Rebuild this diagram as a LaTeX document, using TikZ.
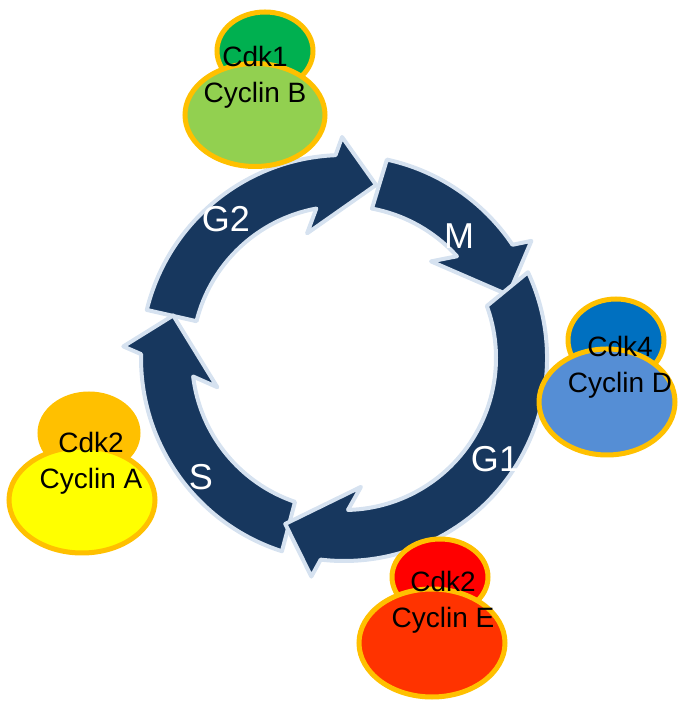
\documentclass[tikz,border=0pt]{standalone}
\usepackage{fontspec}
\setmainfont{Liberation Sans}
\usetikzlibrary{shapes.geometric}
\definecolor{cyclenavy}{RGB}{23,55,94}
\definecolor{cycleedge}{RGB}{214,226,240}
\definecolor{blobedge}{RGB}{255,192,0}
\definecolor{cdkgreen}{RGB}{0,176,80}
\definecolor{cycbgreen}{RGB}{146,208,80}
\definecolor{cdkblue}{RGB}{0,112,192}
\definecolor{cycdblue}{RGB}{85,142,213}
\definecolor{cdkorange}{RGB}{255,192,0}
\definecolor{cycayellow}{RGB}{255,255,0}
\definecolor{cdkred}{RGB}{255,0,0}
\definecolor{cyceorange}{RGB}{255,51,0}
\begin{document}
\begin{tikzpicture}[x=1pt,y=1pt,
    phasearrow/.style={fill=cyclenavy, draw=cycleedge, line width=4pt, line join=round},
    phaselabel/.style={text=white, font=\fontsize{36}{40}\selectfont},
    blob/.style={ellipse, draw=blobedge, line width=5pt, inner sep=0pt},
    blobtext/.style={align=center, font=\fontsize{28}{36}\selectfont}]
    \useasboundingbox (0,0) rectangle (679,701);
    % cycle ring: M, G2, S, G1
    \begin{scope}[shift={(344,343)}]
        \foreach \outa/\inna/\tipa in {77.8/79.4/21, 166.3/166/79.5, 252.2/251.2/166, 25/20/-109.5}
            \draw[phasearrow] (\outa:203pt) arc[start angle=\outa, end angle=\tipa+12.9, radius=203pt]
                -- ({\tipa+11}:221pt) -- (\tipa:176pt) -- ({\tipa+27}:130pt) -- ({\tipa+21}:152pt)
                arc[start angle=\tipa+21, end angle=\inna, radius=152pt] -- cycle;
    \end{scope}
    \node[phaselabel] (g2) at (226,482) {G2};
    \node[phaselabel] (m) at (459,465) {M};
    \node[phaselabel] (g1) at (495,242) {G1};
    \node[phaselabel] (s) at (201,224) {S};
    % Cdk / cyclin pairs
    \node[blob, fill=cdkgreen, minimum width=96, minimum height=78] (cdk1) at (265,650) {};
    \node[blob, fill=cycbgreen, minimum width=140, minimum height=103] (cycb) at (255,586) {};
    \node[blobtext] (cdk1txt) at (255,624) {Cdk1\\Cyclin B};
    \node[blob, fill=cdkblue, minimum width=96, minimum height=82] (cdk4) at (616,361) {};
    \node[blob, fill=cycdblue, minimum width=136, minimum height=106] (cycd) at (607,299) {};
    \node[blobtext] (cdk4txt) at (620,334) {Cdk4\\Cyclin D};
    \node[blob, fill=cdkorange, minimum width=98, minimum height=78] (cdk2a) at (89,268) {};
    \node[blob, fill=cycayellow, minimum width=146, minimum height=106] (cyca) at (82,201) {};
    \node[blobtext] (cdk2atxt) at (91,238) {Cdk2\\Cyclin A};
    \node[blob, fill=cdkred, minimum width=96, minimum height=76] (cdk2e) at (440,124) {};
    \node[blob, fill=cyceorange, minimum width=146, minimum height=108] (cyce) at (432,58) {};
    \node[blobtext] (cdk2etxt) at (443,99) {Cdk2\\Cyclin E};
\end{tikzpicture}
\end{document}
